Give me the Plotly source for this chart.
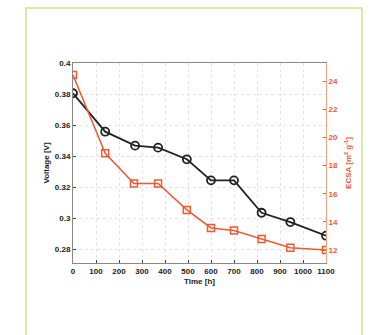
import plotly.graph_objects as go

time_v = [0, 140, 270, 370, 495, 600, 700, 820, 945, 1100]
voltage = [0.3805, 0.3557, 0.3467, 0.3454, 0.3379, 0.3243, 0.3243, 0.3034, 0.2974, 0.2886]
time_e = [0, 140, 265, 370, 495, 600, 700, 820, 945, 1100]
ecsa = [24.43, 18.87, 16.72, 16.72, 14.85, 13.57, 13.38, 12.79, 12.16, 12.0]

x_ticks = [0, 100, 200, 300, 400, 500, 600, 700, 800, 900, 1000, 1100]
y_ticks = [0.28, 0.3, 0.32, 0.34, 0.36, 0.38, 0.4]
y_tick_labels = ["0.28", "0.3", "0.32", "0.34", "0.36", "0.38", "0.4"]
y2_ticks = [12, 14, 16, 18, 20, 22, 24]

RED = "#ee5a2f"
FONT = "Liberation Sans"

fig = go.Figure()
fig.add_trace(go.Scatter(
    x=time_v, y=voltage, mode="lines+markers",
    line=dict(color="#222222", width=1.8),
    marker=dict(symbol="circle-open", size=8, color="#222222", line=dict(width=1.8)),
    yaxis="y", showlegend=False))
fig.add_trace(go.Scatter(
    x=time_e, y=ecsa, mode="lines+markers",
    line=dict(color=RED, width=1.5),
    marker=dict(symbol="square-open", size=7, color=RED, line=dict(width=1.5)),
    yaxis="y2", showlegend=False))

tickfont = dict(family=FONT, size=8, color="#222222")
fig.update_layout(
    width=372, height=335,
    margin=dict(l=73, r=46, t=63, b=72, autoexpand=False),
    paper_bgcolor="white", plot_bgcolor="white",
    font=dict(family=FONT),
    xaxis=dict(range=[0, 1100], tickvals=x_ticks, ticktext=["<b>%d</b>" % t for t in x_ticks],
               ticks="inside", ticklen=3, automargin=False,
               tickfont=tickfont, showgrid=True, gridcolor="#e2e2e2", griddash="dot",
               gridwidth=1, showline=True, linecolor="#888888", linewidth=1, mirror=True,
               zeroline=False,
               title=dict(text="<b>Time [h]</b>", font=dict(family=FONT, size=8, color="#222222"), standoff=3)),
    yaxis=dict(range=[0.271, 0.4], tickvals=y_ticks, ticktext=["<b>%s</b>" % t for t in y_tick_labels],
               ticks="inside", ticklen=3, tickfont=tickfont, showgrid=True, gridcolor="#e2e2e2",
               automargin=False,
               griddash="dot", showline=True, linecolor="#888888", linewidth=1, zeroline=False,
               title=dict(text="<b>Voltage [V]</b>", font=dict(family=FONT, size=8, color="#222222"), standoff=4)),
    yaxis2=dict(range=[11.08, 25.28], tickvals=y2_ticks, overlaying="y", side="right",
                ticktext=["<b>%d</b>" % t for t in y2_ticks], automargin=False,
                ticks="inside", ticklen=3, tickcolor=RED, tickfont=dict(family=FONT, size=8, color=RED),
                showgrid=False, showline=True, linecolor="#f5a080", linewidth=1, zeroline=False,
                title=dict(text="<b>ECSA [m<sup>2</sup> g<sup>-1</sup>]</b>", font=dict(family=FONT, size=8, color=RED), standoff=8)),
)

fig.add_shape(type="rect", xref="paper", yref="paper",
              x0=-0.1858, x1=1.142, y0=-0.4, y1=1.275,
              line=dict(color="#cde58a", width=1.5), fillcolor="rgba(0,0,0,0)", layer="below")

fig.write_html("out.html", config={"displayModeBar": False},
               post_script="document.body.style.margin='0';")
